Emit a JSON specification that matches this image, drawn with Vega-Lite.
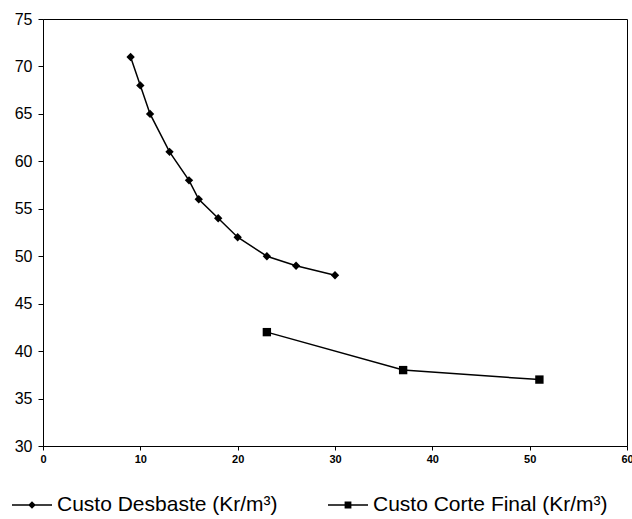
{
  "$schema": "https://vega.github.io/schema/vega-lite/v6.json",
  "width": 584,
  "height": 427,
  "autosize": "none",
  "padding": {"left": 43, "top": 19, "right": 5, "bottom": 73},
  "background": "white",
  "config": {
    "font": "Liberation Sans",
    "view": {"stroke": "black", "strokeWidth": 1},
    "axis": {"grid": false, "domainColor": "black", "tickColor": "black", "labelColor": "black", "title": null}
  },
  "data": {"values": [
    {"serie": "Custo Desbaste (Kr/m³)", "x": 9, "y": 71},
    {"serie": "Custo Desbaste (Kr/m³)", "x": 10, "y": 68},
    {"serie": "Custo Desbaste (Kr/m³)", "x": 11, "y": 65},
    {"serie": "Custo Desbaste (Kr/m³)", "x": 13, "y": 61},
    {"serie": "Custo Desbaste (Kr/m³)", "x": 15, "y": 58},
    {"serie": "Custo Desbaste (Kr/m³)", "x": 16, "y": 56},
    {"serie": "Custo Desbaste (Kr/m³)", "x": 18, "y": 54},
    {"serie": "Custo Desbaste (Kr/m³)", "x": 20, "y": 52},
    {"serie": "Custo Desbaste (Kr/m³)", "x": 23, "y": 50},
    {"serie": "Custo Desbaste (Kr/m³)", "x": 26, "y": 49},
    {"serie": "Custo Desbaste (Kr/m³)", "x": 30, "y": 48},
    {"serie": "Custo Corte Final (Kr/m³)", "x": 23, "y": 42},
    {"serie": "Custo Corte Final (Kr/m³)", "x": 37, "y": 38},
    {"serie": "Custo Corte Final (Kr/m³)", "x": 51, "y": 37}
  ]},
  "encoding": {
    "x": {"field": "x", "type": "quantitative", "scale": {"domain": [0, 60], "nice": false},
      "axis": {"values": [0, 10, 20, 30, 40, 50, 60], "labelFontSize": 11, "labelFontWeight": "bold", "tickSize": 4, "labelPadding": 3, "labelFlush": false}},
    "y": {"field": "y", "type": "quantitative", "scale": {"domain": [30, 75], "nice": false, "zero": false},
      "axis": {"values": [30, 35, 40, 45, 50, 55, 60, 65, 70, 75], "labelFontSize": 16, "tickSize": 5, "labelPadding": 6}}
  },
  "layer": [
    {
      "mark": {"type": "line", "color": "black", "strokeWidth": 1.5},
      "encoding": {"detail": {"field": "serie"}}
    },
    {
      "mark": {"type": "point", "filled": true, "color": "black", "opacity": 1, "size": 70},
      "encoding": {
        "shape": {"field": "serie", "type": "nominal",
          "scale": {"domain": ["Custo Desbaste (Kr/m³)", "Custo Corte Final (Kr/m³)"], "range": ["diamond", "square"]},
          "legend": null}
      }
    },
    {
      "mark": {"type": "point", "filled": true, "color": "black", "opacity": 0, "size": 1},
      "encoding": {
        "shape": {"field": "serie", "type": "nominal",
          "scale": {"domain": ["Custo Desbaste (Kr/m³)", "Custo Corte Final (Kr/m³)"],
            "range": ["M-1,-0.035L1,-0.035L1,0.035L-1,0.035ZM0,-0.19L0.19,0L0,0.19L-0.19,0Z", "M-1,-0.035L1,-0.035L1,0.035L-1,0.035ZM-0.17,-0.17L0.17,-0.17L0.17,0.17L-0.17,0.17Z"]},
          "legend": {
            "title": null, "orient": "none", "direction": "horizontal",
            "legendX": -31, "legendY": 466, "padding": 0,
            "symbolSize": 1600, "symbolOpacity": 1, "symbolFillColor": "black", "symbolStrokeColor": "black", "symbolStrokeWidth": 0,
            "labelFontSize": 21, "labelOffset": 5, "columnPadding": 50,
            "labelLimit": 400, "labelColor": "black",
            "encode": {"symbols": {"update": {
              "fill": {"value": "black"}, "opacity": {"value": 1}, "fillOpacity": {"value": 1}
            }}}
          }}
      }
    }
  ],
  "resolve": {"scale": {"shape": "independent"}}
}
